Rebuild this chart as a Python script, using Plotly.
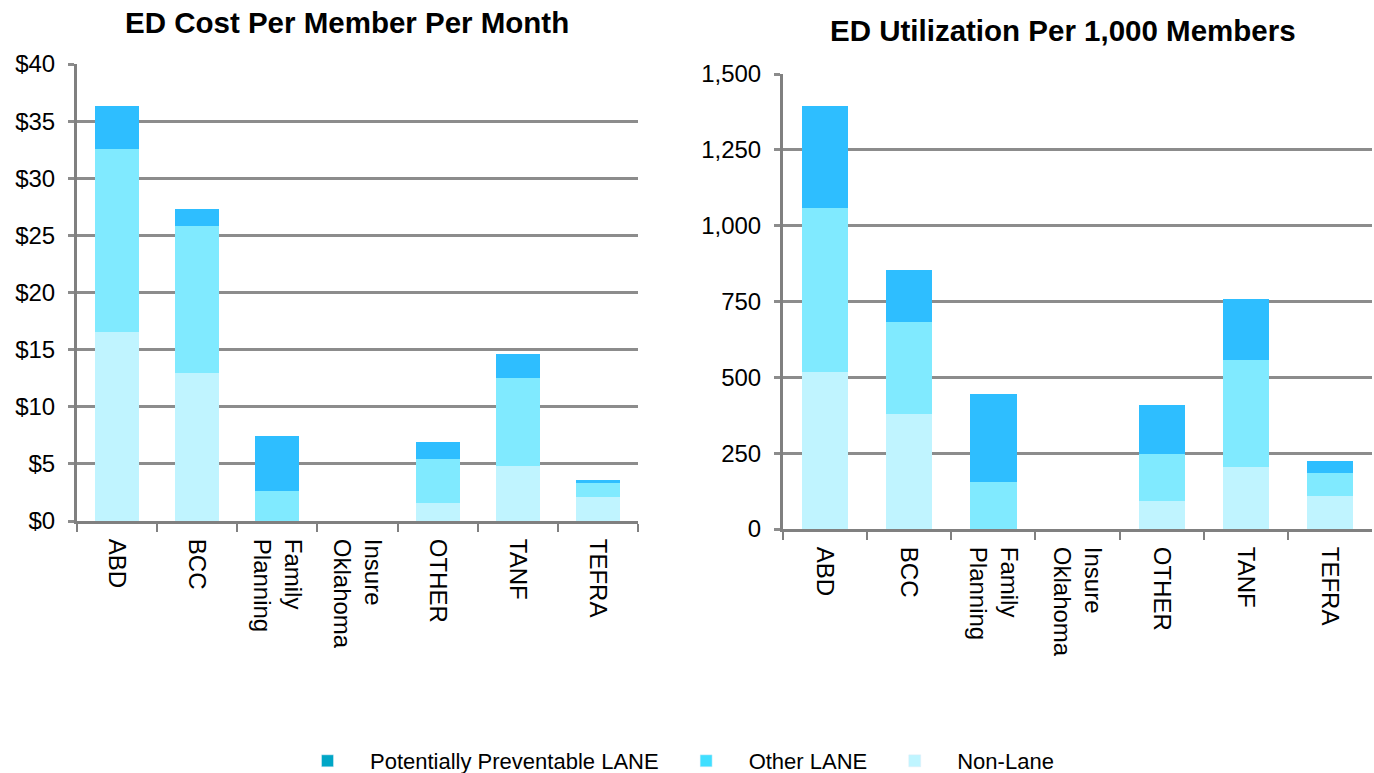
import plotly.graph_objects as go

categories = ["ABD", "BCC", "Family<br>Planning", "Insure<br>Oklahoma", "OTHER", "TANF", "TEFRA"]

# ED Cost Per Member Per Month ($)
cost_non_lane = [16.5, 12.95, 0.0, 0.0, 1.6, 4.8, 2.1]
cost_other_lane = [16.1, 12.85, 2.6, 0.0, 3.8, 7.7, 1.2]
cost_pp_lane = [3.7, 1.5, 4.85, 0.0, 1.5, 2.1, 0.3]

# ED Utilization Per 1,000 Members
util_non_lane = [518, 379, 0, 0, 92, 204, 109]
util_other_lane = [540, 303, 155, 0, 155, 353, 76]
util_pp_lane = [337, 172, 290, 0, 162, 201, 39]

series_names = ["Potentially Preventable LANE", "Other LANE", "Non-Lane"]
bar_colors = {"Non-Lane": "#C0F4FF", "Other LANE": "#80EAFF", "Potentially Preventable LANE": "#2EBEFF"}
legend_colors = {"Potentially Preventable LANE": "#00A6C6", "Other LANE": "#40DFFF", "Non-Lane": "#BFF5FF"}

FONT = "Liberation Sans, Arial, sans-serif"
W, H = 1374, 773

fig = go.Figure()

for xa, ya, nl, ol, pp in [("x", "y", cost_non_lane, cost_other_lane, cost_pp_lane),
                           ("x2", "y2", util_non_lane, util_other_lane, util_pp_lane)]:
    for name, vals in [("Non-Lane", nl), ("Other LANE", ol), ("Potentially Preventable LANE", pp)]:
        fig.add_trace(go.Bar(x=categories, y=vals, name=name, xaxis=xa, yaxis=ya,
                             marker=dict(color=bar_colors[name], line=dict(width=0)),
                             showlegend=False))

# legend entries
for name in series_names:
    fig.add_trace(go.Bar(x=[None], y=[None], name=name, xaxis="x", yaxis="y",
                         marker=dict(color=legend_colors[name]), showlegend=True))

axis_common = dict(showline=True, linecolor="#808080", linewidth=3,
                   tickfont=dict(family=FONT, size=24, color="#000000"))

xcommon = dict(axis_common, type="category", tickangle=90, ticks="outside", ticklen=8,
               tickwidth=2, tickcolor="#808080", tickson="boundaries", showgrid=False,
               ticklabelstandoff=10)
ycommon = dict(axis_common, showgrid=True, gridcolor="#8C8C8C", gridwidth=3,
               ticks="outside", ticklen=6, tickwidth=3, tickcolor="#8C8C8C", zeroline=False)

fig.update_layout(
    width=W, height=H,
    margin=dict(l=0, r=0, t=0, b=0, autoexpand=False),
    paper_bgcolor="white", plot_bgcolor="white",
    barmode="stack", bargap=0.45,
    font=dict(family=FONT, color="#000000"),
    xaxis=dict(xcommon, domain=[77 / W, 638 / W], anchor="y"),
    yaxis=dict(ycommon, domain=[1 - 521 / H, 1 - 64 / H], anchor="x", range=[0, 40], dtick=5,
               tickprefix="$", ticklabelstandoff=8),
    xaxis2=dict(xcommon, domain=[783 / W, 1372 / W], anchor="y2"),
    yaxis2=dict(ycommon, domain=[1 - 529 / H, 1 - 74 / H], anchor="x2", range=[0, 1500], dtick=250,
                tickformat=",", ticklabelstandoff=8),
    legend=dict(orientation="h", x=285 / W, xanchor="left", y=1 - 761 / H, yanchor="middle",
                font=dict(family=FONT, size=22, color="#000000"), itemwidth=75,
                traceorder="normal", bgcolor="rgba(0,0,0,0)"),
    annotations=[
        dict(text="<b>ED Cost Per Member Per Month</b>", x=347 / W, y=1 - 22 / H,
             xref="paper", yref="paper", xanchor="center", yanchor="middle",
             showarrow=False, font=dict(family=FONT, size=29.5, color="#000000")),
        dict(text="<b>ED Utilization Per 1,000 Members</b>", x=1063 / W, y=1 - 31 / H,
             xref="paper", yref="paper", xanchor="center", yanchor="middle",
             showarrow=False, font=dict(family=FONT, size=29.5, color="#000000")),
    ],
)

fig.write_html("out.html", config={"displayModeBar": False},
               post_script="document.body.style.margin='0';document.body.style.overflow='hidden';")
